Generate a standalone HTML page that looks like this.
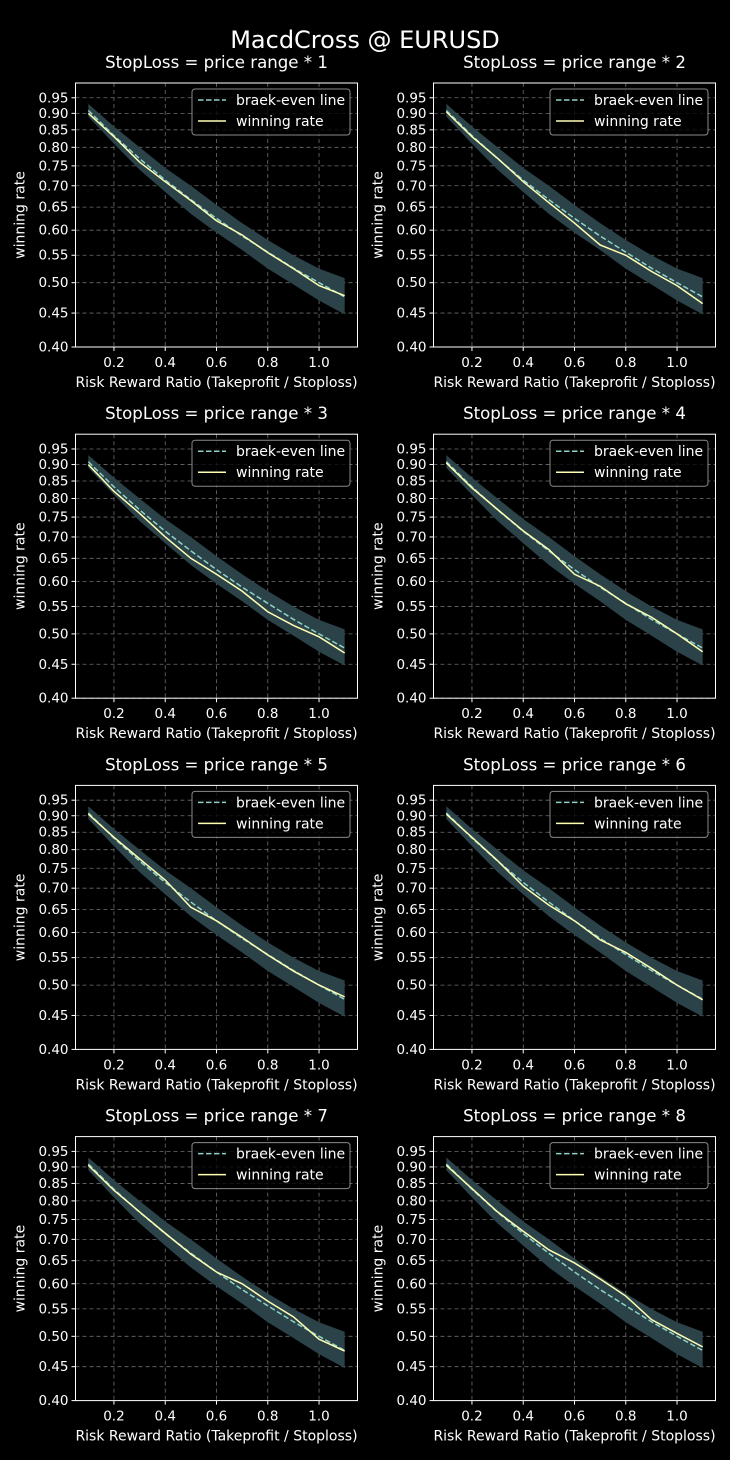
<!DOCTYPE html>
<html><head><meta charset="utf-8"><style>
body{margin:0;background:#000;}
svg{display:block;font-family:"DejaVu Sans","Liberation Sans",sans-serif;}
</style></head><body>
<svg id="fig" width="730" height="1460" viewBox="0 0 730 1460">
<rect width="730" height="1460" fill="#000"/>
<text x="365" y="48" text-anchor="middle" fill="#fff" font-size="24">MacdCross @ EURUSD</text>
</svg>
<script>
const rr=[0.1,0.2,0.3,0.4,0.5,0.6,0.7,0.8,0.9,1.0,1.1];
const breakEven=[0.909,0.833,0.769,0.714,0.667,0.625,0.588,0.556,0.526,0.5,0.476];
const bandUpper=[0.93,0.86,0.80,0.745,0.70,0.655,0.615,0.58,0.55,0.525,0.508];
const bandLower=[0.89,0.81,0.74,0.685,0.635,0.595,0.56,0.525,0.497,0.47,0.448];
const win1=[0.90,0.83,0.76,0.71,0.665,0.62,0.59,0.555,0.525,0.495,0.478];
const win2=[0.905,0.83,0.77,0.71,0.66,0.615,0.57,0.55,0.52,0.495,0.465];
const win3=[0.90,0.82,0.76,0.70,0.65,0.615,0.58,0.54,0.515,0.495,0.468];
const win4=[0.905,0.83,0.77,0.715,0.67,0.615,0.59,0.555,0.53,0.5,0.47];
const win5=[0.905,0.835,0.775,0.72,0.655,0.625,0.59,0.555,0.525,0.5,0.48];
const win6=[0.905,0.835,0.77,0.705,0.66,0.625,0.585,0.56,0.53,0.5,0.475];
const win7=[0.905,0.83,0.77,0.715,0.665,0.625,0.6,0.565,0.535,0.495,0.475];
const win8=[0.905,0.835,0.77,0.72,0.675,0.645,0.61,0.575,0.53,0.505,0.482];
const winSeries=[win1,win2,win3,win4,win5,win6,win7,win8];
const xTicks=[0.2,0.4,0.6,0.8,1.0];
const xTickLabels=["0.2","0.4","0.6","0.8","1.0"];
const yTicks=[0.40,0.45,0.50,0.55,0.60,0.65,0.70,0.75,0.80,0.85,0.90,0.95];
const yTickLabels=["0.40","0.45","0.50","0.55","0.60","0.65","0.70","0.75","0.80","0.85","0.90","0.95"];
const titles=["1","2","3","4","5","6","7","8"];

const NS="http://www.w3.org/2000/svg";
const fig=document.getElementById('fig');
function mk(tag,attrs,parent){const e=document.createElementNS(NS,tag);for(const k in attrs)e.setAttribute(k,attrs[k]);parent.appendChild(e);return e;}
const W=282,H=264,X0=0.05,X1=1.15,Y0=0.4,Y1=1.0;
for(let p=0;p<8;p++){
  const col=p%2,row=Math.floor(p/2);
  const L=col?433.5:75.5, T=83+row*351.2;
  const sx=v=>L+(v-X0)/(X1-X0)*W;
  const sy=v=>T+H-(Math.log(v/Y0)/Math.log(Y1/Y0))*H;
  const g=mk('g',{},fig);
  
  
  const t=mk('text',{x:L+W/2,y:T-15,'text-anchor':'middle',fill:'#fff','font-size':16.6},g);
  t.textContent='StopLoss = price range * '+titles[p];
  
  
  xTicks.forEach((v,i)=>{
    const ln=mk('line',{x1:sx(v),x2:sx(v),y1:T,y2:T+H,stroke:'#6e6e6e','stroke-dasharray':'4,3','stroke-width':0.8},g);
    
    
    mk('line',{x1:sx(v),x2:sx(v),y1:T+H,y2:T+H+4,stroke:'#fff'},g);
    const tx=mk('text',{x:sx(v),y:T+H+20,'text-anchor':'middle',fill:'#fff','font-size':13.5},g);
    tx.textContent=xTickLabels[i];
    
    
  });
  yTicks.forEach((v,i)=>{
    const ln=mk('line',{x1:L,x2:L+W,y1:sy(v),y2:sy(v),stroke:'#6e6e6e','stroke-dasharray':'4,3','stroke-width':0.8},g);
    
    
    mk('line',{x1:L-4,x2:L,y1:sy(v),y2:sy(v),stroke:'#fff'},g);
    const ty=mk('text',{x:L-7,y:sy(v)+4.5,'text-anchor':'end',fill:'#fff','font-size':13.5},g);
    ty.textContent=yTickLabels[i];
    
    
  });
  let d=rr.map((r,i)=>(i?'L':'M')+sx(r)+','+sy(bandUpper[i])).join('');
  for(let i=rr.length-1;i>=0;i--)d+='L'+sx(rr[i])+','+sy(bandLower[i]);
  const band=mk('path',{d:d+'Z',fill:'#2b4249'},g);
  
  
  const be=mk('polyline',{points:rr.map((r,i)=>sx(r)+','+sy(breakEven[i])).join(' '),fill:'none',stroke:'#8dd3c7','stroke-width':1.5,'stroke-dasharray':'5.5,2.5'},g);
  
  
  const w=winSeries[p];
  const wl=mk('polyline',{points:rr.map((r,i)=>sx(r)+','+sy(w[i])).join(' '),fill:'none',stroke:'#ffffb3','stroke-width':1.5},g);
  
  
  const fr=mk('rect',{x:L,y:T,width:W,height:H,fill:'none',stroke:'#fff','stroke-width':1},g);
  
  
  const lg=mk('g',{},g);
  
  
  const lx=L+W-165.5, ly=T+6;
  mk('rect',{x:lx,y:ly,width:158,height:46,rx:3,fill:'rgba(0,0,0,0.8)',stroke:'#8a8a8a','stroke-width':1},lg);
  mk('line',{x1:lx+6,x2:lx+34,y1:ly+11,y2:ly+11,stroke:'#8dd3c7','stroke-width':1.5,'stroke-dasharray':'5.5,2.5'},lg);
  mk('line',{x1:lx+6,x2:lx+34,y1:ly+32,y2:ly+32,stroke:'#ffffb3','stroke-width':1.5},lg);
  const a=mk('text',{x:lx+44,y:ly+16,fill:'#fff','font-size':14},lg);a.textContent='braek-even line';
  
  
  const b=mk('text',{x:lx+44,y:ly+37,fill:'#fff','font-size':14},lg);b.textContent='winning rate';
  
  
  const xl=mk('text',{x:L+W/2,y:T+H+40,'text-anchor':'middle',fill:'#fff','font-size':14},g);
  xl.textContent='Risk Reward Ratio (Takeprofit / Stoploss)';
  
  
  const yx=L-51, yy=T+H/2;
  const yl=mk('text',{x:yx,y:yy,'text-anchor':'middle',fill:'#fff','font-size':14,transform:'rotate(-90 '+yx+' '+yy+')'},g);
  yl.textContent='winning rate';
  
  
}
</script>
</body></html>
